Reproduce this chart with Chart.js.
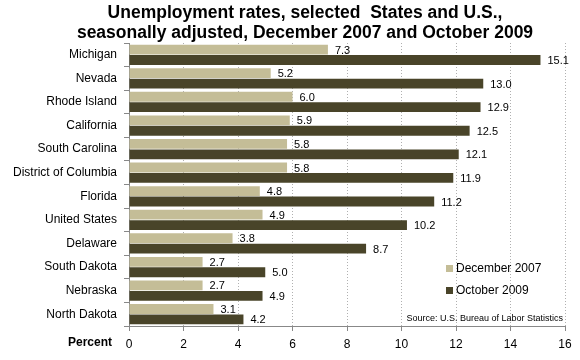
<!DOCTYPE html>
<html>
<head>
<meta charset="utf-8">
<script src="https://cdn.jsdelivr.net/npm/chart.js@4"></script>
<style>
html,body{margin:0;padding:0;background:#fff;}
#wrap{width:580px;height:360px;}
</style>
</head>
<body>
<div id="wrap"><canvas id="c" width="580" height="360"></canvas></div>
<script>
const categories = ["Michigan","Nevada","Rhode Island","California","South Carolina","District of Columbia","Florida","United States","Delaware","South Dakota","Nebraska","North Dakota"];
const dec2007 = [7.3,5.2,6.0,5.9,5.8,5.8,4.8,4.9,3.8,2.7,2.7,3.1];
const oct2009 = [15.1,13.0,12.9,12.5,12.1,11.9,11.2,10.2,8.7,5.0,4.9,4.2];
const seriesNames = ["December 2007","October 2009"];
const xTicks = [0,2,4,6,8,10,12,14,16];
const titleLines = ["Unemployment rates, selected  States and U.S.,","seasonally adjusted, December 2007 and October 2009"];
const sourceText = "Source: U.S. Bureau of Labor Statistics";
const axisLabel = "Percent";

const FONT = "'Liberation Sans', Arial, sans-serif";
const colors = ["#C4BD97","#494429"];

const decorPlugin = {
  id: 'decor',
  afterDatasetsDraw(chart) {
    const ctx = chart.ctx;
    ctx.save();
    // value labels
    ctx.font = "11px " + FONT;
    ctx.fillStyle = "#000";
    ctx.textAlign = "left";
    ctx.textBaseline = "middle";
    chart.data.datasets.forEach((ds, di) => {
      const meta = chart.getDatasetMeta(di);
      meta.data.forEach((bar, i) => {
        ctx.fillText(ds.data[i].toFixed(1), bar.x + 7, bar.y + 1);
      });
    });
    // legend
    ctx.font = "12px " + FONT;
    const lx = 446, ly = [269, 291];
    seriesNames.forEach((n, i) => {
      ctx.fillStyle = colors[i];
      ctx.fillRect(lx, ly[i] - 4, 7, 7);
      ctx.fillStyle = "#000";
      ctx.fillText(n, lx + 10, ly[i]);
    });
    // source
    ctx.font = "9px " + FONT;
    ctx.textAlign = "right";
    ctx.fillText(sourceText, 563, 319);
    // axis label
    ctx.font = "bold 12px " + FONT;
    ctx.textAlign = "right";
    ctx.fillText(axisLabel, 112, 343);
    // title
    ctx.font = "bold 17.5px " + FONT;
    ctx.textAlign = "center";
    ctx.fillText(titleLines[0], 305, 13);
    ctx.fillText(titleLines[1], 305, 33);
    ctx.restore();
  }
};

new Chart(document.getElementById('c'), {
  type: 'bar',
  data: {
    labels: categories,
    datasets: [
      {label: seriesNames[0], data: dec2007, backgroundColor: colors[0], categoryPercentage: 0.88, barPercentage: 0.95},
      {label: seriesNames[1], data: oct2009, backgroundColor: colors[1], categoryPercentage: 0.88, barPercentage: 0.95}
    ]
  },
  options: {
    indexAxis: 'y',
    responsive: false,
    animation: false,
    layout: {padding: {top: 43, right: 15, left: 0, bottom: 0}},
    plugins: {legend: {display: false}, title: {display: false}, tooltip: {enabled: false}},
    scales: {
      x: {
        min: 0, max: 16,
        afterBuildTicks(scale) { scale.ticks = xTicks.map(v => ({value: v})); },
        afterFit(scale) { scale.height = 34; },
        ticks: {font: {family: FONT, size: 12}, color: "#000", padding: 6, autoSkip: false, maxRotation: 0},
        grid: {color: "#B0B0B0", tickColor: "#888", tickLength: 5, tickBorderDash: []},
        border: {color: "#888", dash: [1, 2]}
      },
      y: {
        afterFit(scale) { scale.width = 129; },
        ticks: {font: {family: FONT, size: 12}, color: "#000", padding: 7, autoSkip: false},
        grid: {drawOnChartArea: false, tickColor: "#888", tickLength: 5, offset: true},
        border: {color: "#888"}
      }
    }
  },
  plugins: [decorPlugin]
});
</script>
</body>
</html>
